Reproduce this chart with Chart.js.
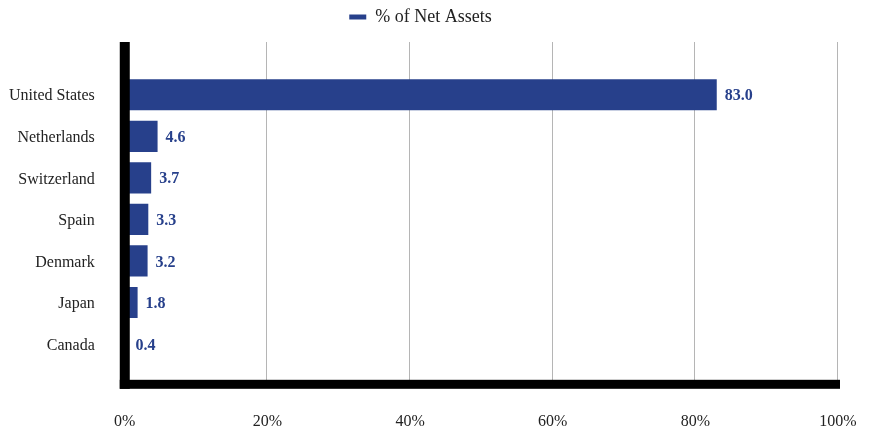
<!DOCTYPE html>
<html>
<head>
<meta charset="utf-8">
<script src="https://cdn.jsdelivr.net/npm/chart.js@4.4.0/dist/chart.umd.min.js"></script>
<style>
  html, body { margin: 0; padding: 0; background: #fff; overflow: hidden; }
  canvas { display: block; }
</style>
</head>
<body>
<canvas id="c" width="871" height="434"></canvas>
<script>
// data
const countries = ['United States', 'Netherlands', 'Switzerland', 'Spain', 'Denmark', 'Japan', 'Canada'];
const netAssets = [83.0, 4.6, 3.7, 3.3, 3.2, 1.8, 0.4];
const xTicks = [0, 20, 40, 60, 80, 100];

const BLUE = '#27408b';
const SERIF = '"Liberation Serif", "DejaVu Serif", serif';

// gridlines + thick axis frame, extended above/below the category band
const frame = {
    id: 'frame',
    beforeInit(chart) {
        // extra room between legend and plot
        const fit = chart.legend.fit;
        chart.legend.fit = function () { fit.call(this); this.height += 38; };
    },
    afterLayout(chart) {
        // legend sits a little left of centre in the original
        chart.legend.left -= 3;
        chart.legend.right -= 3;
    },
    beforeDatasetsDraw(chart) {
        const { ctx, chartArea: a, scales: { x } } = chart;
        ctx.save();
        ctx.strokeStyle = '#b5b5b5';
        ctx.lineWidth = 1;
        xTicks.slice(1).forEach(v => {
            const px = Math.round(x.getPixelForValue(v)) - 0.5;
            ctx.beginPath();
            ctx.moveTo(px, a.top - 32);
            ctx.lineTo(px, a.bottom + 16);
            ctx.stroke();
        });
        ctx.restore();
    },
    afterDatasetsDraw(chart) {
        const { ctx, chartArea: a, scales: { x } } = chart;
        const x0 = x.getPixelForValue(0);
        const x1 = x.getPixelForValue(100);
        ctx.save();
        ctx.fillStyle = '#000';
        ctx.fillRect(x0 - 5, a.top - 32, 10, a.bottom + 24 - (a.top - 32));
        ctx.fillRect(x0 - 5, a.bottom + 15, x1 - x0 + 7, 9);
        // value labels
        ctx.fillStyle = BLUE;
        ctx.font = 'bold 16px ' + SERIF;
        ctx.textBaseline = 'middle';
        chart.getDatasetMeta(0).data.forEach((bar, i) => {
            ctx.fillText(netAssets[i].toFixed(1), bar.x + 8, bar.y + 1.5);
        });
        ctx.restore();
    }
};

new Chart(document.getElementById('c'), {
    type: 'bar',
    data: {
        labels: countries,
        datasets: [{
            label: '% of Net Assets',
            data: netAssets,
            backgroundColor: BLUE,
            borderWidth: 0,
            barPercentage: 0.75,
            categoryPercentage: 1.0
        }]
    },
    options: {
        indexAxis: 'y',
        responsive: false,
        animation: false,
        devicePixelRatio: 1,
        layout: { padding: { left: 9, right: 33, top: 0, bottom: 3 } },
        plugins: {
            legend: {
                display: true,
                labels: {
                    boxWidth: 17, boxHeight: 5, padding: 8,
                    color: '#222',
                    font: { family: SERIF, size: 18 }
                }
            },
            tooltip: { enabled: false }
        },
        scales: {
            x: {
                min: 0, max: 100,
                afterBuildTicks: s => { s.ticks = xTicks.map(v => ({ value: v })); },
                // tick marks only used as invisible spacing (tick padding would also pad the sides)
                grid: { display: true, drawOnChartArea: false, drawTicks: true, tickLength: 47, tickColor: 'rgba(0,0,0,0)' },
                border: { display: false },
                ticks: {
                    color: '#222',
                    padding: 0,
                    font: { family: SERIF, size: 16 },
                    callback: v => v + '%'
                }
            },
            y: {
                grid: { display: true, drawOnChartArea: false, drawTicks: true, tickLength: 30, tickColor: 'rgba(0,0,0,0)' },
                border: { display: false },
                ticks: {
                    color: '#222',
                    padding: 0,
                    labelOffset: 1.5,
                    font: { family: SERIF, size: 16 }
                }
            }
        }
    },
    plugins: [frame]
});
</script>
</body>
</html>
